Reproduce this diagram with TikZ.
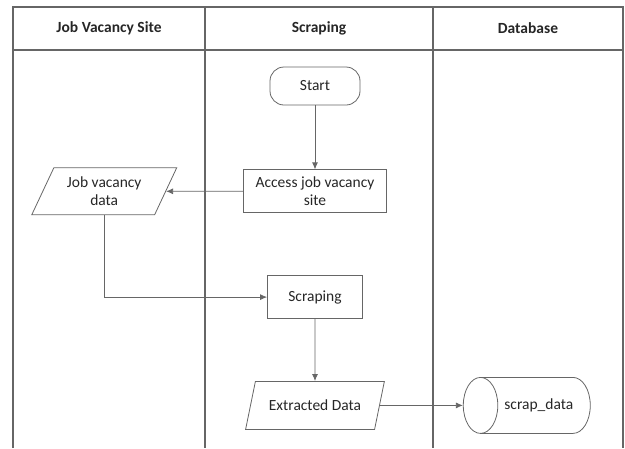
\documentclass[tikz,border=0pt]{standalone}
\usepackage{fontspec}
\setmainfont{Carlito}
\usetikzlibrary{arrows.meta, shapes.geometric, positioning}
\tikzset{
  flowbox/.style={
    rectangle, draw=black!60, line width=0.8pt, inner sep=2pt,
    minimum width=143pt, minimum height=43pt,
    align=center, text=black!85, font=\fontsize{15.5}{17.5}\selectfont
  },
  terminal/.style={flowbox, rounded corners=14pt, minimum width=90pt, minimum height=38pt},
  process/.style={flowbox, minimum width=95pt},
  iodata/.style={flowbox, trapezium, trapezium left angle=62, trapezium right angle=118,
    trapezium stretches=true, minimum width=145pt, minimum height=47pt},
  store/.style={flowbox, cylinder, shape border rotate=180, aspect=2,
    minimum width=56pt, minimum height=127pt},
  flow/.style={-{Latex[length=7pt,width=6pt]}, draw=black!60, line width=0.8pt},
  lane/.style={draw=black!60, line width=1.2pt},
  lanehead/.style={font=\bfseries\fontsize{15.5}{18}\selectfont, text=black!85}
}

\begin{document}
\begin{tikzpicture}[x=1pt, y=-1pt]
    \useasboundingbox (0,0) rectangle (625,448);
    % swimlanes
    \draw[lane] (13,448) -- (13,7) -- (623,7) -- (623,448);
    \draw[lane] (13,50) -- (623,50);
    \draw[lane] (205,7) -- (205,448);
    \draw[lane] (433,7) -- (433,448);
    \node[lanehead] (hsite) at (109,28) {Job Vacancy Site};
    \node[lanehead] (hscrap) at (319,28) {Scraping};
    \node[lanehead] (hdb) at (528,28) {Database};

    % flow
    \node[terminal] (start) at (315,86) {Start};
    \node[flowbox, below=64pt of start] (access) {Access job vacancy\\site};
    \node[iodata, left=77pt of access] (jobdata) {Job vacancy\\data};
    \node[process, below=62pt of access] (scrape) {Scraping};
    \node[iodata, below=62pt of scrape, minimum width=139pt, minimum height=48pt] (extracted) {Extracted Data};
    \node[store, right=83pt of extracted] (scrapdb) {scrap\_data};

    \draw[flow] (start) -- (access);
    \draw[flow] (access) -- (jobdata);
    \draw[flow] (jobdata.south) |- (scrape);
    \draw[flow] (scrape) -- (extracted);
    \draw[flow] (extracted) -- (scrapdb);
\end{tikzpicture}
\end{document}
